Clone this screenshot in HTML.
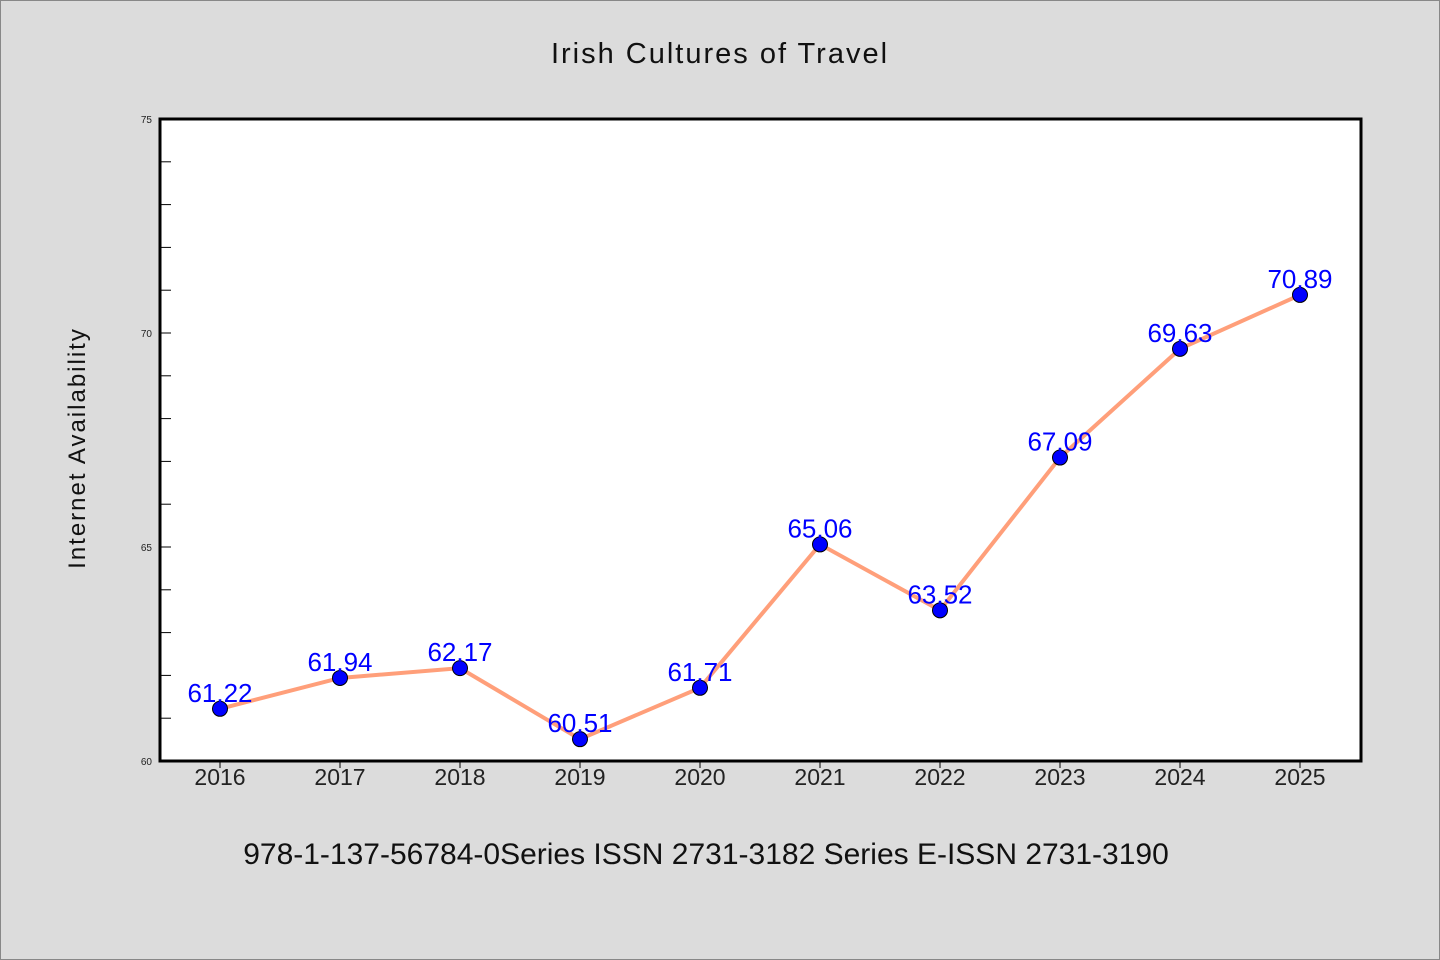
<!DOCTYPE html>
<html><head><meta charset="utf-8"><style>
html,body{margin:0;padding:0;background:#dcdcdc;}
svg{display:block;font-family:"WenQuanYi Zen Hei","Liberation Sans",sans-serif;}
</style></head><body>
<svg id="chart" width="1440" height="960" xmlns="http://www.w3.org/2000/svg">
<rect x="0.5" y="0.5" width="1439" height="959" fill="#dcdcdc" stroke="#888"/>
<text x="720" y="63" text-anchor="middle" font-size="29" fill="#111" letter-spacing="2">Irish Cultures of Travel</text>
<rect x="160" y="119" width="1201" height="642" fill="#fff" stroke="#000" stroke-width="3"/>
<text transform="translate(85,448) rotate(-90)" text-anchor="middle" font-size="24" fill="#111" letter-spacing="2">Internet Availability</text>
<text x="706" y="864" text-anchor="middle" font-size="30" fill="#111">978-1-137-56784-0Series ISSN 2731-3182 Series E-ISSN 2731-3190</text>
<g id="axes"></g>
<g id="series"></g>
</svg>
<script>
const categories=["2016","2017","2018","2019","2020","2021","2022","2023","2024","2025"];
const values=[61.22,61.94,62.17,60.51,61.71,65.06,63.52,67.09,69.63,70.89];
const yTicks=[60,65,70,75];
const yMin=60,yMax=75;
const NS="http://www.w3.org/2000/svg";
function xPos(i){return 220+i*120;}
function yPos(v){return 761-(v-yMin)/(yMax-yMin)*642;}
function mk(t,a,p){const e=document.createElementNS(NS,t);for(const k in a)e.setAttribute(k,a[k]);p.appendChild(e);return e;}
const ax=document.getElementById('axes'),sr=document.getElementById('series');
for(let v=yMin;v<=yMax;v++){
  const t=mk('line',{x1:160,x2:171,y1:yPos(v),y2:yPos(v),stroke:'#000','stroke-width':1},ax);
  
  
}
yTicks.forEach(v=>{
  const t=mk('text',{x:152,y:yPos(v)+4,'text-anchor':'end','font-size':10,fill:'#222'},ax);
  t.textContent=v;
  
  
});
categories.forEach((c,i)=>{
  const tk=mk('line',{x1:xPos(i),x2:xPos(i),y1:761,y2:768,stroke:'#000','stroke-width':1},ax);
  
  
  const t=mk('text',{x:xPos(i),y:785,'text-anchor':'middle','font-size':23,fill:'#222'},ax);
  t.textContent=c;
  
  
});
const pl=mk('polyline',{points:values.map((v,i)=>xPos(i)+','+yPos(v)).join(' '),fill:'none',stroke:'#ff9f7a','stroke-width':4},sr);


values.forEach((v,i)=>{
  const c=mk('circle',{cx:xPos(i),cy:yPos(v),r:7.5,fill:'#0000ff',stroke:'#000','stroke-width':1},sr);
  
  
  const t=mk('text',{x:xPos(i),y:yPos(v)-7,'text-anchor':'middle','font-size':26,fill:'#0000ff'},sr);
  t.textContent=v.toFixed(2);
  
  
});
</script>
</body></html>
